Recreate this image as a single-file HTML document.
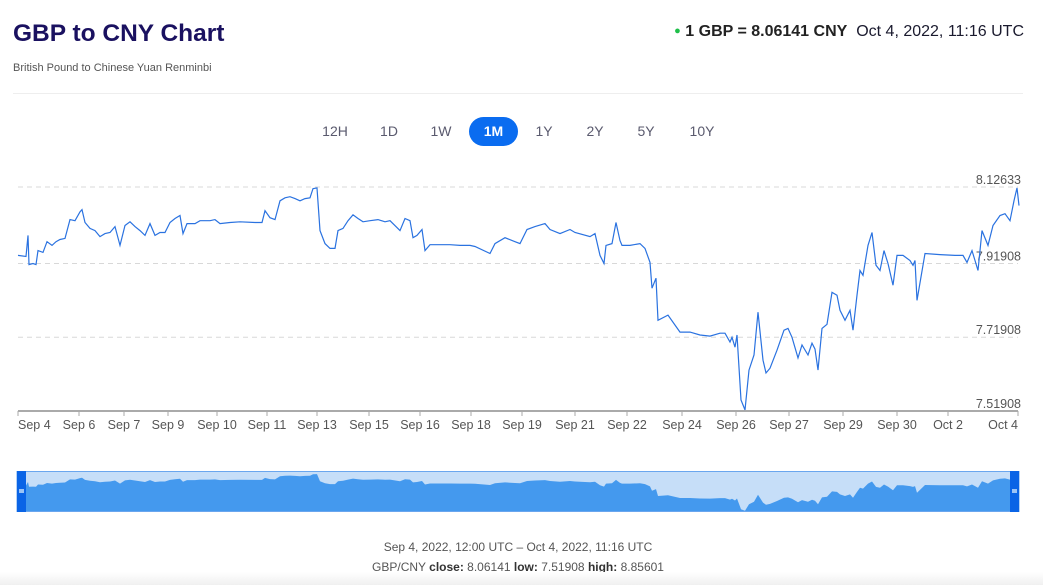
<!DOCTYPE html>
<html><head><meta charset="utf-8"><style>
body{margin:0;width:1043px;height:585px;background:#fff;font-family:"Liberation Sans",Arial,sans-serif;position:relative;overflow:hidden}
.t{position:absolute;white-space:nowrap}
.btn{position:absolute;top:117px;height:29px;line-height:29px;font-size:14px;color:#5a5a6e;text-align:center;border-radius:15px}
.on{background:#0a6cf0;color:#fff;font-weight:bold}
</style></head><body>
<div class="t" style="left:13px;top:20px;font-size:24.5px;font-weight:bold;color:#1a1160">GBP to CNY Chart</div>
<div class="t" style="left:13px;top:62px;font-size:11px;color:#555">British Pound to Chinese Yuan Renminbi</div>
<div class="t" style="right:19px;top:23px;font-size:16px;color:#1a1a2e"><span style="color:#1fbf4a;font-size:11px;vertical-align:2px">●</span> <span style="font-weight:bold;color:#222">1 GBP = 8.06141 CNY</span>&nbsp; Oct 4, 2022, 11:16 UTC</div>
<div style="position:absolute;left:13px;top:93px;width:1010px;height:1px;background:#eee"></div>
<div class="btn" style="left:314px;width:42px">12H</div>
<div class="btn" style="left:368px;width:42px">1D</div>
<div class="btn" style="left:420px;width:42px">1W</div>
<div class="btn on" style="left:469px;width:49px">1M</div>
<div class="btn" style="left:523px;width:42px">1Y</div>
<div class="btn" style="left:574px;width:42px">2Y</div>
<div class="btn" style="left:625px;width:42px">5Y</div>
<div class="btn" style="left:681px;width:42px">10Y</div>
<svg id="c" width="1043" height="585" style="position:absolute;left:0;top:0"></svg>
<div class="t" style="left:0;width:1036px;text-align:center;top:540px;font-size:12px;color:#555">Sep 4, 2022, 12:00 UTC – Oct 4, 2022, 11:16 UTC</div>
<div class="t" style="left:0;width:1036px;text-align:center;top:560px;font-size:12px;color:#555">GBP/CNY <b style="color:#333">close:</b> 8.06141 <b style="color:#333">low:</b> 7.51908 <b style="color:#333">high:</b> 8.85601</div>
<div style="position:absolute;left:0;top:572px;width:1043px;height:13px;background:linear-gradient(#fff,#f0f0f0)"></div>
<script>
const timeIdx=[0,8,10,11,15,18,20,25,29,34,38,42,47,52,57,62,64,67,72,77,82,87,92,97,102,107,112,117,122,127,132,137,142,147,152,157,162,165,169,177,182,192,197,202,212,222,237,244,247,252,257,262,267,272,277,282,287,292,295,299,302,307,312,317,320,325,330,335,340,345,352,360,367,372,382,387,392,395,399,404,407,412,422,432,442,452,457,472,477,487,497,502,509,517,527,532,542,552,557,572,577,582,586,588,594,598,602,604,612,622,627,632,634,638,640,650,662,672,682,692,702,707,712,714,717,719,723,727,731,736,740,745,748,752,759,766,770,774,780,784,790,794,797,800,804,809,814,819,822,827,832,835,839,842,845,850,854,858,862,866,870,875,879,885,892,895,897,899,907,922,937,945,949,954,957,960,964,970,975,982,987,992,996,999,1001];
const values=[7.941,7.938,7.995,7.916,7.919,7.916,7.954,7.949,7.978,7.968,7.978,7.984,7.987,8.038,8.035,8.059,8.065,8.030,8.014,8.008,7.992,8.000,8.003,8.019,7.968,8.022,8.032,8.019,8.008,7.995,8.027,7.995,8.003,8.003,8.030,8.041,8.049,8.000,8.027,8.027,8.035,8.035,8.038,8.027,8.030,8.032,8.030,8.030,8.062,8.043,8.038,8.089,8.097,8.100,8.095,8.089,8.095,8.097,8.122,8.124,8.008,7.973,7.960,7.960,8.008,8.014,8.035,8.051,8.041,8.032,8.035,8.038,8.032,8.035,8.008,8.041,8.035,7.989,7.995,8.011,7.954,7.970,7.970,7.970,7.968,7.968,7.965,7.946,7.973,7.989,7.978,7.973,8.011,8.019,8.027,8.011,8.000,8.011,8.003,7.992,8.000,7.941,7.919,7.968,7.973,8.030,7.981,7.968,7.968,7.973,7.960,7.922,7.852,7.879,7.765,7.779,7.733,7.733,7.725,7.722,7.730,7.730,7.706,7.719,7.692,7.725,7.549,7.522,7.630,7.671,7.787,7.657,7.622,7.635,7.684,7.738,7.743,7.719,7.663,7.698,7.671,7.703,7.687,7.630,7.743,7.754,7.841,7.833,7.792,7.765,7.792,7.738,7.833,7.900,7.887,7.968,8.003,7.914,7.900,7.954,7.919,7.860,7.941,7.941,7.927,7.914,7.927,7.819,7.946,7.943,7.941,7.941,7.922,7.954,7.927,7.900,8.008,7.968,8.022,8.049,8.054,8.035,8.089,8.124,8.076,8.068];
const tickLabels=["Sep 4","Sep 6","Sep 7","Sep 9","Sep 10","Sep 11","Sep 13","Sep 15","Sep 16","Sep 18","Sep 19","Sep 21","Sep 22","Sep 24","Sep 26","Sep 27","Sep 29","Sep 30","Oct 2","Oct 4"];
const tickIdx=[0,61,106,150,199,249,299,351,402,453,504,557,609,664,718,771,825,879,930,1000];
const yTicks=[8.12633,7.91908,7.71908,7.51908];
const NS='http://www.w3.org/2000/svg',svg=document.getElementById('c');
const X0=18,X1=1018,Y0=411,Y1=187;
const x=t=>X0+(t/1000)*(X1-X0);
const y=v=>Y0-(v-7.51908)/(8.12633-7.51908)*(Y0-Y1);
const ny=v=>511-(v-7.51908)/(8.12633-7.51908)*37;
function mk(tag,a,p){const e=document.createElementNS(NS,tag);for(const k in a)e.setAttribute(k,a[k]);(p||svg).appendChild(e);return e;}
yTicks.forEach((v,i)=>{
 const l=mk('line',{x1:X0,x2:X1,y1:y(v),y2:y(v),stroke:'#d8d8d8','stroke-dasharray':'5,4'});
 
 
 const t=mk('text',{x:1021,y:y(v)-3,'text-anchor':'end','font-size':'12.5',fill:'#555','font-family':'Liberation Sans'});
 t.textContent=v.toFixed(5);
 
 
});
const ax=mk('line',{x1:X0,x2:X1,y1:Y0,y2:Y0,stroke:'#aaa','stroke-width':2});


tickLabels.forEach((s,i)=>{
 const px=x(tickIdx[i]);
 const tk=mk('line',{x1:px,x2:px,y1:Y0,y2:Y0+5,stroke:'#aaa'});
 
 
 const anchor=i==0?'start':(i==tickLabels.length-1?'end':'middle');
 const t=mk('text',{x:px,y:429,'text-anchor':anchor,'font-size':'12.5',fill:'#555','font-family':'Liberation Sans'});
 t.textContent=s;
 
 
});
let d=timeIdx.map((t,i)=>(i?'L':'M')+x(t).toFixed(1)+','+y(values[i]).toFixed(1)).join('');
const line=mk('path',{d:d,fill:'none',stroke:'#2a72e0','stroke-width':1.2});


const nb=mk('rect',{x:17,y:471.5,width:1002,height:40,fill:'#c6def8',stroke:'#6aa6ee'});


let na='M'+x(0)+',511'+timeIdx.map((t,i)=>'L'+x(t).toFixed(1)+','+ny(values[i]).toFixed(1)).join('')+'L'+x(1000)+',511Z';
const ar=mk('path',{d:na,fill:'#4499ee'});


[[17,'navigator-handle-left'],[1010,'navigator-handle-right']].forEach(([hx,n])=>{
 const h=mk('rect',{x:hx,y:471,width:9,height:41,fill:'#0a64e6'});
 
 
 const g=mk('rect',{x:hx+2,y:489,width:5,height:4,fill:'#9cc4f5'});
 
 
});
</script>
</body></html>
